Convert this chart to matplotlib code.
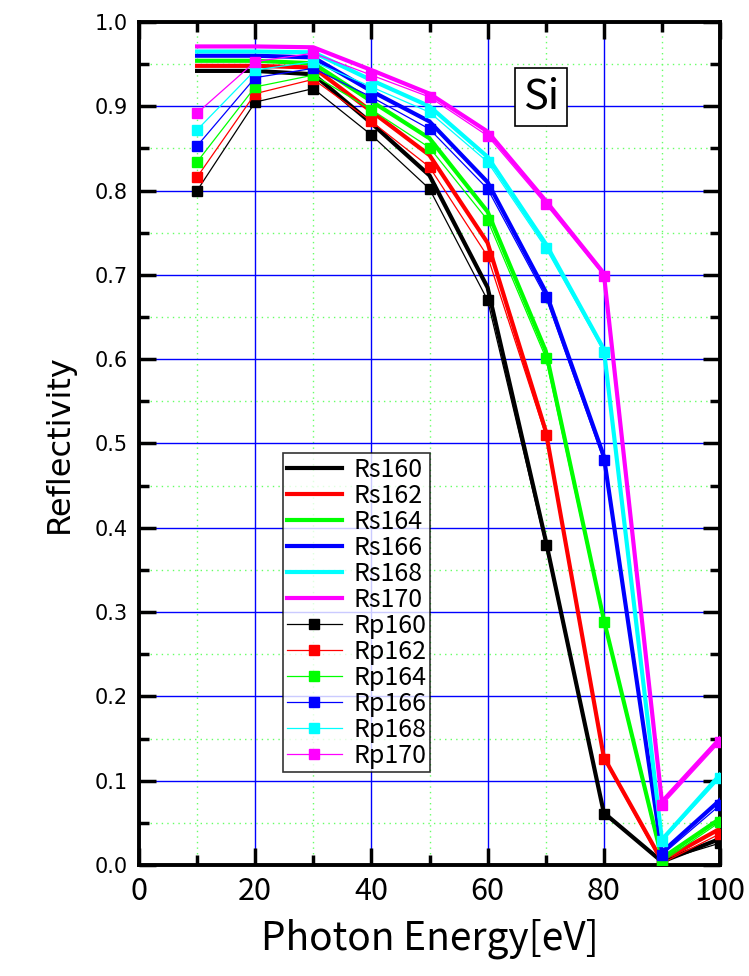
import numpy as np
import matplotlib
matplotlib.use("Agg")
import matplotlib.pyplot as plt
from matplotlib.ticker import MultipleLocator

# photon energy [eV]
energy = [10, 20, 30, 40, 50, 60, 70, 80, 90, 100]

names = ["160", "162", "164", "166", "168", "170"]
colors = ["#000000", "#ff0000", "#00ff00", "#0000ff", "#00ffff", "#ff00ff"]

# s-polarised reflectivity (thick lines)
rs160 = [0.942, 0.942, 0.938, 0.880, 0.818, 0.685, 0.385, 0.062, 0.004, 0.031]
rs162 = [0.948, 0.948, 0.946, 0.894, 0.842, 0.738, 0.515, 0.128, 0.005, 0.043]
rs164 = [0.954, 0.954, 0.951, 0.906, 0.862, 0.775, 0.610, 0.291, 0.008, 0.055]
rs166 = [0.960, 0.960, 0.958, 0.918, 0.882, 0.810, 0.680, 0.485, 0.015, 0.077]
rs168 = [0.965, 0.965, 0.964, 0.931, 0.900, 0.840, 0.737, 0.612, 0.030, 0.107]
rs170 = [0.971, 0.971, 0.970, 0.943, 0.915, 0.870, 0.788, 0.702, 0.075, 0.150]

# p-polarised reflectivity (thin lines + squares)
rp160 = [0.800, 0.905, 0.921, 0.866, 0.802, 0.670, 0.380, 0.060, 0.005, 0.026]
rp162 = [0.816, 0.915, 0.932, 0.882, 0.828, 0.722, 0.510, 0.126, 0.002, 0.037]
rp164 = [0.834, 0.923, 0.937, 0.896, 0.851, 0.765, 0.602, 0.288, 0.004, 0.051]
rp166 = [0.853, 0.934, 0.945, 0.911, 0.873, 0.802, 0.674, 0.480, 0.012, 0.071]
rp168 = [0.872, 0.943, 0.953, 0.923, 0.893, 0.834, 0.732, 0.609, 0.028, 0.103]
rp170 = [0.892, 0.953, 0.963, 0.937, 0.911, 0.865, 0.784, 0.699, 0.071, 0.146]

rs_all = [rs160, rs162, rs164, rs166, rs168, rs170]
rp_all = [rp160, rp162, rp164, rp166, rp168, rp170]

plt.rcParams['font.family'] = ['Noto Sans CJK JP', 'DejaVu Sans']

fig = plt.figure(figsize=(7.49, 9.76), dpi=100)
ax = fig.add_axes([139 / 749, 111 / 976, 581 / 749, 843 / 976])

for name, c, rs in zip(names, colors, rs_all):
    ax.plot(energy, rs, color=c, lw=3.0, label="Rs" + name, zorder=3)
for name, c, rp in zip(names, colors, rp_all):
    ax.plot(energy, rp, color=c, lw=0.9, marker="s", markersize=7,
            label="Rp" + name, zorder=4)

ax.set_xlim(0, 100)
ax.set_ylim(0, 1.0)
ax.xaxis.set_major_locator(MultipleLocator(20))
ax.xaxis.set_minor_locator(MultipleLocator(10))
ax.yaxis.set_major_locator(MultipleLocator(0.1))
ax.yaxis.set_minor_locator(MultipleLocator(0.05))
ax.yaxis.set_major_formatter(matplotlib.ticker.FormatStrFormatter("%.1f"))

ax.grid(which="major", color="#0000ff", lw=1.0, ls="-", zorder=1)
ax.grid(which="minor", color="#66ff66", lw=1.0, ls=(0, (1, 3)), zorder=1)
ax.set_axisbelow(True)

ax.tick_params(which="both", direction="in", top=True, right=True, width=2.5)
ax.tick_params(which="major", length=12, labelsize=22, pad=8)
ax.tick_params(which="minor", length=7)
for s in ax.spines.values():
    s.set_linewidth(2.8)

ax.set_xlabel("Photon Energy[eV]", fontsize=28, labelpad=8)
ax.set_ylabel("Reflectivity", fontsize=23, labelpad=14, family="DejaVu Sans")
for lab in ax.get_yticklabels():
    lab.set_family("DejaVu Sans")
    lab.set_fontsize(15)

ax.text(69.2, 0.911, "Si", fontsize=30, ha="center", va="center",
        bbox=dict(boxstyle="square,pad=0.2", fc="white", ec="black", lw=1.2))

leg = ax.legend(loc="lower left", bbox_to_anchor=(0.248, 0.11), fontsize=18,
                frameon=True, fancybox=False, edgecolor="black",
                handlelength=2.2, labelspacing=0.0, borderpad=0.15,
                handletextpad=0.45, borderaxespad=0)
leg.get_frame().set_linewidth(1.2)

plt.savefig("out.png", dpi=100)
